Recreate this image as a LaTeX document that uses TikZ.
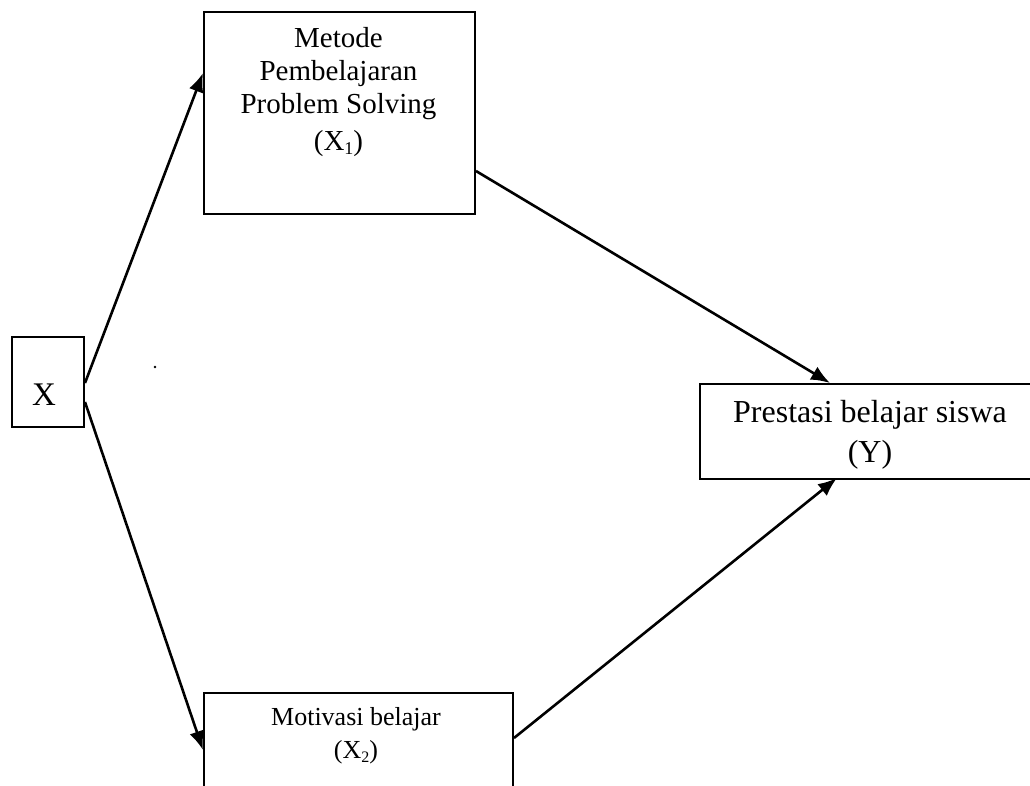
\documentclass[tikz,border=0pt]{standalone}
\usepackage{fontspec}
\setmainfont{Liberation Serif}
\usetikzlibrary{arrows.meta}
\begin{document}
\begin{tikzpicture}[x=1pt,y=-1pt,
  boxnode/.style={draw=black,line width=2pt,inner sep=0pt,anchor=north west},
  txt/.style={inner sep=0pt,anchor=base},
  conn/.style={line width=2.6pt,-{Latex[length=19pt,width=15pt]}}]
\fill[white] (0,0) rectangle (1030,785);
\clip (0,0) rectangle (1030,785);
% boxes
\node[boxnode,minimum width=72pt,minimum height=90pt] (X) at (11,336) {};
\node[boxnode,minimum width=271pt,minimum height=202pt] (T) at (203,11) {};
\node[boxnode,minimum width=309pt,minimum height=120pt] (B) at (203,692) {};
\node[boxnode,minimum width=360pt,minimum height=95pt] (Y) at (699,383) {};
% texts
\node[txt,font=\fontsize{33}{36}\selectfont] (tX) at (44,405) {X};
\begin{scope}[every node/.style={txt,font=\fontsize{29}{33}\selectfont}]
\node (t1) at (338.5,47) {Metode};
\node (t2) at (338.5,80) {Pembelajaran};
\node (t3) at (338.5,113) {Problem Solving};
\node (t4) at (338.5,150) {(X\raisebox{-4pt}{\fontsize{18}{20}\selectfont 1})};
\end{scope}
\begin{scope}[every node/.style={txt,font=\fontsize{32}{36}\selectfont}]
\node (y1) at (870,422) {Prestasi belajar siswa};
\node (y2) at (870,462) {(Y)};
\end{scope}
\begin{scope}[every node/.style={txt,font=\fontsize{26}{30}\selectfont}]
\node (b1) at (356,725) {Motivasi belajar};
\node (b2) at (356,758) {(X\raisebox{-4pt}{\fontsize{16}{18}\selectfont 2})};
\end{scope}
% anchor points
\coordinate (xa) at (X.north east |- 0,383);
\coordinate (xb) at (X.north east |- 0,402);
\coordinate (ta) at (T.north west |- 0,73);
\coordinate (tb) at (T.north east |- 0,171);
\coordinate (ba) at (B.north west |- 0,750);
\coordinate (bb) at (B.north east |- 0,738);
\coordinate (ya) at (830,383);
\coordinate (yb) at (837,478);
% connectors
\draw[conn] (xa) -- (ta);
\draw[conn] (xb) -- (ba);
\draw[conn] (tb) -- (ya);
\draw[conn] (bb) -- (yb);
% stray dot
\fill (155,367) circle (1.3pt);
\end{tikzpicture}
\end{document}
